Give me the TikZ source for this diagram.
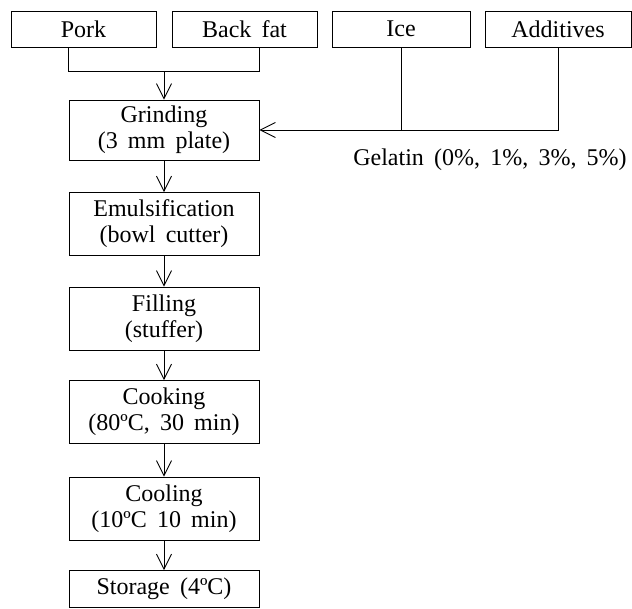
\documentclass[tikz,border=0pt]{standalone}
\usepackage{fontspec}
\setmainfont[WordSpace=1.7]{Liberation Serif}
\usetikzlibrary{arrows.meta}
\tikzset{
  stepbox/.style={draw, minimum width=190pt, minimum height=63pt, align=center, inner sep=1pt},
  inbox/.style={draw, minimum height=36pt, inner sep=1pt},
}
\begin{document}
\begin{tikzpicture}[x=1pt, y=-1pt, font=\fontsize{24}{26}\selectfont, line width=0.9pt, >={Straight Barb[length=15pt,width=15pt]}]
	\useasboundingbox (0,0) rectangle (632,608);
	% raw materials
	\node[inbox, minimum width=145pt] (pork) at (83.5,29) {Pork};
	\node[inbox, minimum width=145pt] (fat) at (244.5,29) {Back fat};
	\node[inbox, minimum width=138pt] (ice) at (401,29) {Ice};
	\node[inbox, minimum width=146pt] (add) at (558,29) {Additives};
	% process steps
	\node[stepbox, minimum height=60pt] (grind) at (164,130) {Grinding\\(3 mm plate)};
	\node[stepbox] (emul) at (164,224) {Emulsification\\(bowl cutter)};
	\node[stepbox] (fill) at (164,318.5) {Filling\\(stuffer)};
	\node[stepbox] (cook) at (164,412) {Cooking\\(80ºC, 30 min)};
	\node[stepbox] (cool) at (164,508.5) {Cooling\\(10ºC 10 min)};
	\node[stepbox, minimum height=37pt] (store) at (164,589) {Storage (4ºC)};
	\node (gel) at (490,160) {Gelatin (0\%, 1\%, 3\%, 5\%)};
	% connectors
	\coordinate (meat) at (164,71.5);
	\coordinate (dry) at (ice |- grind.east);
	\draw (grind.west |- pork.south) |- (meat) -| (grind.east |- fat.south);
	\draw[->] (meat) -- (grind.north);
	\draw (ice.south) -- (dry);
	\draw[->] (add.south) |- (grind.east);
	\draw[->] (grind) -- (emul);
	\draw[->] (emul) -- (fill);
	\draw[->] (fill) -- (cook);
	\draw[->] (cook) -- (cool);
	\draw[->] (cool) -- (store);
\end{tikzpicture}
\end{document}
